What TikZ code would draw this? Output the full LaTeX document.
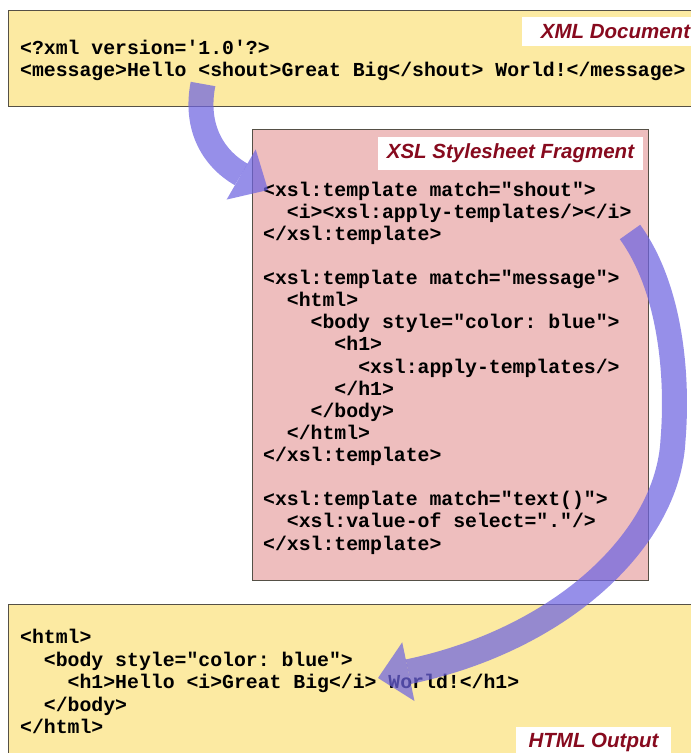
\documentclass[tikz,border=0pt]{standalone}
\usepackage{fontspec}
\setmainfont{Liberation Sans}
\setmonofont{Liberation Mono}
\usetikzlibrary{arrows.meta}
\definecolor{docyellow}{RGB}{252,234,162}
\definecolor{xslpink}{RGB}{238,190,190}
\definecolor{framegray}{RGB}{85,80,70}
\definecolor{labelred}{RGB}{135,10,30}
\definecolor{flowblue}{RGB}{110,100,225}
\begin{document}
\begin{tikzpicture}[x=1pt,y=-1pt,
  panel/.style={draw=framegray, line width=1.3pt},
  codeline/.style={anchor=base west, inner sep=0pt,
    font=\ttfamily\bfseries\fontsize{19.8}{22}\selectfont},
  caption/.style={fill=white, inner sep=0pt, text=labelred,
    font=\bfseries\itshape\fontsize{20.5}{24}\selectfont},
  flowarrow/.style={draw=flowblue, line width=25pt, draw opacity=0.72,
    fill opacity=0.72, line cap=butt}]
\useasboundingbox (0,0) rectangle (691,753);
\clip (0,0) rectangle (691,753);

% panels
\node[panel, fill=docyellow, inner sep=0pt, minimum width=692pt, minimum height=96pt, anchor=north west] (xmlbox) at (8,10) {};
\node[panel, fill=xslpink, inner sep=0pt, minimum width=396pt, minimum height=451pt, anchor=north west] (xslbox) at (252,129) {};
\node[panel, fill=docyellow, inner sep=0pt, minimum width=692pt, minimum height=160pt, anchor=north west] (htmlbox) at (8,604) {};

% captions
\node[caption, minimum width=187pt, minimum height=29pt] (xmllabel) at (615.5,31.5) {XML Document};
\node[caption, minimum width=265pt, minimum height=33pt] (xsllabel) at (510.5,153.5) {XSL Stylesheet Fragment};
\node[caption, minimum width=155pt, minimum height=30pt] (htmllabel) at (593.5,742) {HTML Output};

% XML document
\node[codeline] (x1) at (20,54) {<?xml version='1.0'?>};
\node[codeline] (x2) at (20,76) {<message>Hello <shout>Great Big</shout> World!</message>};

% XSL stylesheet
\node[codeline] (s1)  at (263,196.0) {<xsl:template match="shout">};
\node[codeline] (s2)  at (263,218.1) {~~<i><xsl:apply-templates/></i>};
\node[codeline] (s3)  at (263,240.3) {</xsl:template>};
\node[codeline] (s4)  at (263,284.5) {<xsl:template match="message">};
\node[codeline] (s5)  at (263,306.6) {~~<html>};
\node[codeline] (s6)  at (263,328.8) {~~~~<body style="color: blue">};
\node[codeline] (s7)  at (263,350.9) {~~~~~~<h1>};
\node[codeline] (s8)  at (263,373.0) {~~~~~~~~<xsl:apply-templates/>};
\node[codeline] (s9)  at (263,395.2) {~~~~~~</h1>};
\node[codeline] (s10) at (263,417.3) {~~~~</body>};
\node[codeline] (s11) at (263,439.4) {~~</html>};
\node[codeline] (s12) at (263,461.6) {</xsl:template>};
\node[codeline] (s13) at (263,505.8) {<xsl:template match="text()">};
\node[codeline] (s14) at (263,527.9) {~~<xsl:value-of select="."/>};
\node[codeline] (s15) at (263,550.0) {</xsl:template>};

% HTML output
\node[codeline] (h1) at (20,643.5) {<html>};
\node[codeline] (h2) at (20,666.0) {~~<body style="color: blue">};
\node[codeline] (h3) at (20,688.5) {~~~~<h1>Hello <i>Great Big</i> World!</h1>};
\node[codeline] (h4) at (20,711.0) {~~</body>};
\node[codeline] (h5) at (20,733.5) {</html>};

% flow arrows
\coordinate (a1s) at (203,84);
\coordinate (a1e) at (268,190);
\coordinate (a2s) at (630,232);
\coordinate (a2m) at (673,440);
\coordinate (a2e) at (378,678);
\draw[flowarrow, -{Triangle[width=58pt,length=31pt,line width=0pt]}]
  (a1s) .. controls (195,125) and (211,157) .. (a1e);
\draw[flowarrow, -{Triangle[width=60pt,length=31pt,line width=0pt]}]
  (a2s) .. controls (672,290) and (678,380) .. (a2m)
        .. controls (668,540) and (560,640) .. (a2e);
\end{tikzpicture}
\end{document}
